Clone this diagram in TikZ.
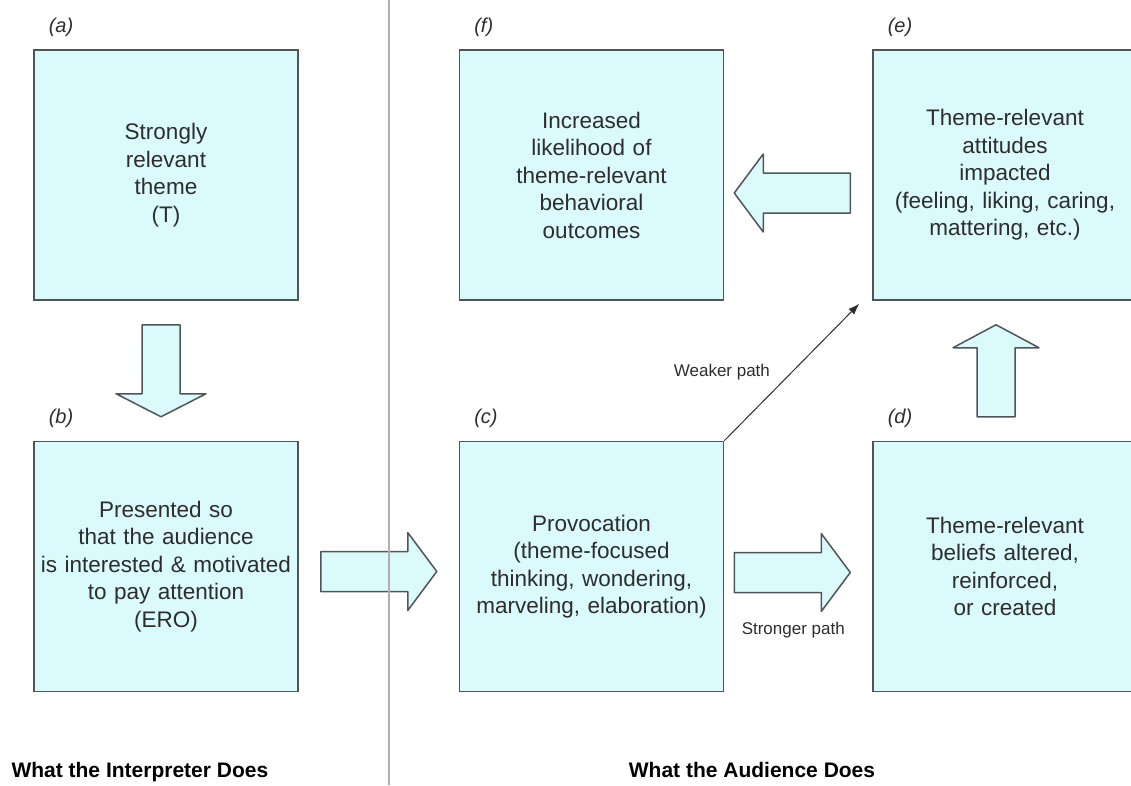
\documentclass[tikz,border=0pt]{standalone}
\usepackage{fontspec}
\setmainfont{Liberation Sans}
\usetikzlibrary{arrows.meta,positioning,calc}

\definecolor{boxfill}{RGB}{218,250,252}
\definecolor{edgegray}{RGB}{80,85,90}
\definecolor{inkgray}{RGB}{45,45,45}
\definecolor{rulegray}{RGB}{175,175,175}

% block arrow: centre, angle, half length, shaft half width, head half width, head length
\newcommand{\fatarrow}[6]{%
  \draw[fat, shift={#1}, rotate=#2]
    (-#3,-#4) -- ({#3-#6},-#4) -- ({#3-#6},-#5) -- (#3,0)
    -- ({#3-#6},#5) -- ({#3-#6},#4) -- (-#3,#4) -- cycle;}

\begin{document}
\begin{tikzpicture}[
  x=1pt, y=-1pt,
  font=\fontsize{22.5}{27.5}\selectfont,
  box/.style={draw=edgegray, line width=1.5pt, fill=boxfill, minimum width=264pt, minimum height=250pt, inner xsep=1pt, text width=260pt, align=center, text=inkgray},
  fat/.style={draw=edgegray, line width=1.5pt, fill=boxfill, line join=round},
  thin/.style={-{Latex[length=11pt,width=8pt]}, line width=1pt, inkgray},
  tag/.style={font=\fontsize{20}{24}\selectfont\itshape, text=inkgray},
  pathlabel/.style={font=\fontsize{17}{20}\selectfont, text=inkgray},
  heading/.style={font=\fontsize{21}{25}\selectfont\bfseries, text=black}
]
\useasboundingbox (0,0) rectangle (1131,785);

\node[box] (theme) at (166,175) {Strongly\\relevant\\theme\\(T)};
\node[box, below=140pt of theme] (present) {Presented so\\that the audience\\is interested \& motivated\\to pay attention\\(ERO)};
\node[box, right=160pt of present] (provoke) {Provocation\\(theme-focused\\thinking, wondering,\\marveling, elaboration)};
\node[box, right=148pt of provoke] (beliefs) {Theme-relevant\\beliefs altered,\\reinforced,\\or created};
\node[box, above=140pt of beliefs] (attitudes) {Theme-relevant\\attitudes\\impacted\\(feeling, liking, caring,\\mattering, etc.)};
\node[box, above=140pt of provoke] (behavior) {Increased\\likelihood of\\theme-relevant\\behavioral\\outcomes};

\node[tag, anchor=base west] (tagA) at ([shift={(12,-17)}]theme.north west) {(a)};
\node[tag, anchor=base west] (tagB) at ([shift={(12,-17)}]present.north west) {(b)};
\node[tag, anchor=base west] (tagC) at ([shift={(12,-17)}]provoke.north west) {(c)};
\node[tag, anchor=base west] (tagD) at ([shift={(12,-17)}]beliefs.north west) {(d)};
\node[tag, anchor=base west] (tagE) at ([shift={(12,-17)}]attitudes.north west) {(e)};
\node[tag, anchor=base west] (tagF) at ([shift={(12,-17)}]behavior.north west) {(f)};

\fatarrow{($(theme.south)!0.5!(present.north)+(-5,0)$)}{-90}{46}{19}{45}{23}
\fatarrow{($(present.east)!0.5!(provoke.west)+(0,5)$)}{0}{58}{20}{39}{29}
\fatarrow{($(provoke.east)!0.5!(beliefs.west)+(-6,6)$)}{0}{58}{20}{39}{29}
\fatarrow{($(attitudes.west)!0.5!(behavior.east)+(-6,18)$)}{180}{58}{20}{39}{29}
\fatarrow{($(beliefs.north)!0.5!(attitudes.south)+(-9,0)$)}{90}{46}{19}{43}{23}

\draw[thin] (provoke.north east) -- ([shift={(-13,3)}]attitudes.south west)
  node[pathlabel, midway, left=18pt] (weaklbl) {Weaker path};
\node[pathlabel] (stronglbl) at ($(provoke.east)!0.5!(beliefs.west)+(-5,64)$) {Stronger path};

\draw[rulegray, line width=1.3pt] (389,0) -- (389,785);

\node[heading, anchor=base west] (interp) at (8,777) {What the Interpreter Does};
\node[heading, anchor=base] (audience) at (752,777) {What the Audience Does};
\end{tikzpicture}
\end{document}
